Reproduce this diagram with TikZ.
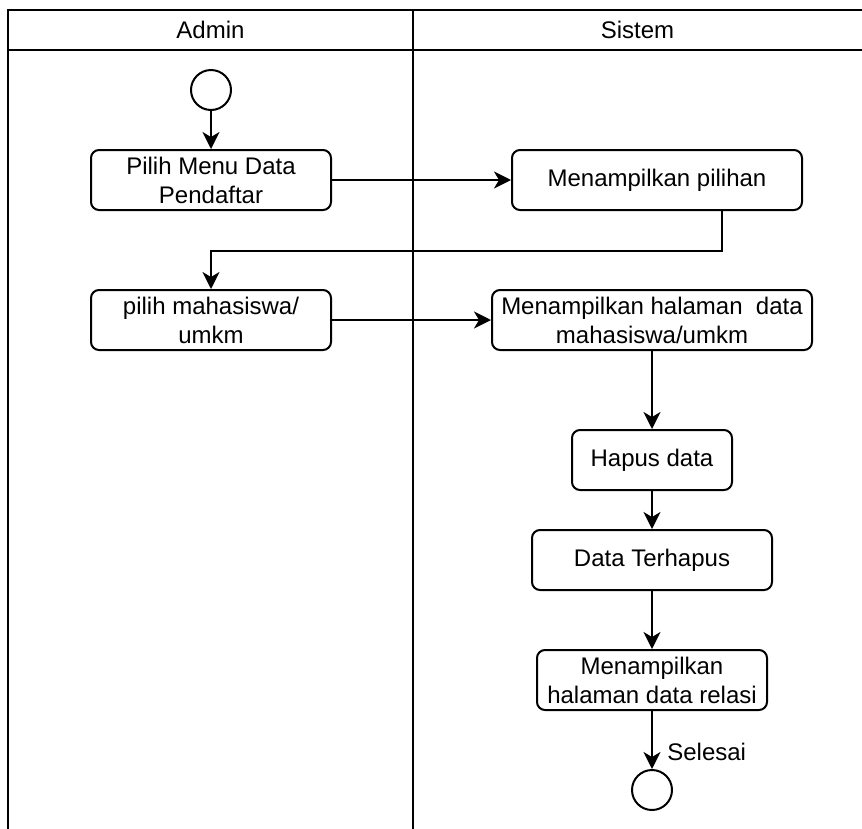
\documentclass[tikz,border=0pt]{standalone}
\usepackage{fontspec}
\setmainfont{Liberation Sans}
\usetikzlibrary{arrows.meta,calc}
\begin{document}
\begin{tikzpicture}[x=1pt,y=-1pt,
  every node/.style={font=\fontsize{24}{29}\selectfont},
  actbox/.style={draw, line width=2pt, rounded corners=8pt, align=center, inner sep=0pt},
  terminal/.style={draw, line width=2pt, circle, minimum size=40pt, inner sep=0pt},
  frameline/.style={line width=2pt},
  arr/.style={line width=2pt, -{Stealth[length=17pt,width=17pt,inset=5pt]}}]
\useasboundingbox (0,0) rectangle (862,828);
\begin{scope}
\clip (0,0) rectangle (862,828);
\draw[frameline] (8,840) -- (8,10) -- (875,10);
\draw[frameline] (8,50) -- (875,50);
\draw[frameline] (413,10) -- (413,840);
\end{scope}
\node (hadmin) at (210.5,30) {Admin};
\node (hsistem) at (637.5,30) {Sistem};

\node[terminal] (start) at (211,90) {};
\node[actbox, minimum width=240pt, minimum height=60pt] (b1) at (211,180) {Pilih Menu Data\\Pendaftar};
\node[actbox, minimum width=290pt, minimum height=60pt] (b2) at (657,180) {Menampilkan pilihan};
\node[actbox, minimum width=240pt, minimum height=60pt] (b3) at (211,320) {pilih mahasiswa/\\umkm};
\node[actbox, minimum width=320pt, minimum height=60pt] (b4) at (652,320) {Menampilkan halaman\ \ data\\mahasiswa/umkm};
\node[actbox, minimum width=160pt, minimum height=60pt] (b5) at (652,460) {Hapus data};
\node[actbox, minimum width=240pt, minimum height=60pt] (b6) at (652,560) {Data Terhapus};
\node[actbox, minimum width=230pt, minimum height=60pt] (b7) at (652,680) {Menampilkan\\halaman data relasi};
\node[terminal] (end) at (652,790) {};

\draw[arr] (start) -- (b1);
\draw[arr] (b1) -- (b2);
\coordinate (elbow) at ($(b2.south)+(65,40)$);
\draw[arr] ([xshift=65pt]b2.south) -- (elbow) -| (b3.north);
\draw[arr] (b3) -- (b4);
\draw[arr] (b4) -- (b5);
\draw[arr] (b5) -- (b6);
\draw[arr] (b6) -- (b7);
\draw[arr] (b7) -- node[pos=0.7, anchor=west, xshift=11pt] (selesai) {Selesai} (end);
\end{tikzpicture}
\end{document}
